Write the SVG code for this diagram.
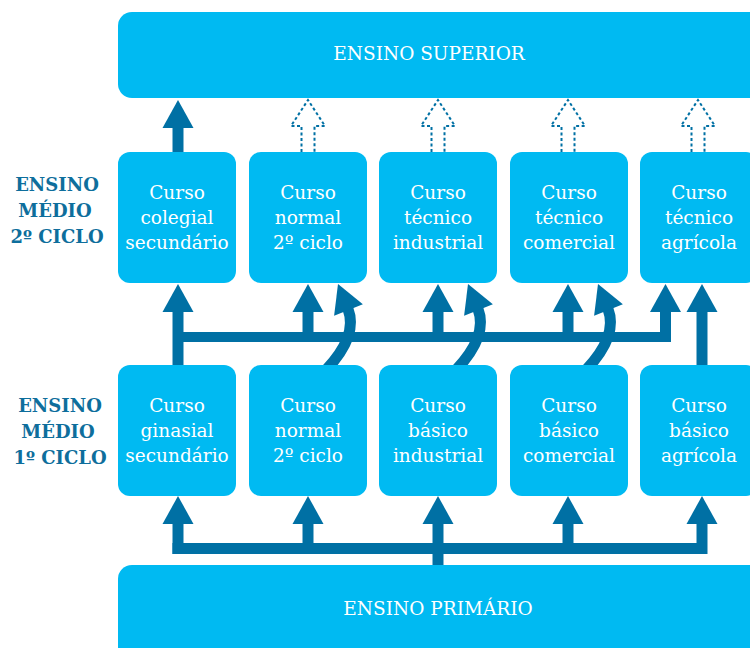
<svg xmlns="http://www.w3.org/2000/svg" xmlns:xlink="http://www.w3.org/1999/xlink" width="750" height="648" viewBox="0 0 750 648">
<style>
.box{fill:#00BAF2}
.bt{fill:#FFFFFF;font-family:"DejaVu Serif","Liberation Serif",serif;font-size:18.5px;text-anchor:middle}
.lbl{fill:#0E6E9C;font-family:"DejaVu Serif","Liberation Serif",serif;font-size:18px;font-weight:bold;text-anchor:middle}
.sh{stroke:#0070A4;stroke-width:11;fill:none}
.hd{fill:#0070A4}
.dash{fill:none;stroke:#0070A4;stroke-width:2;stroke-dasharray:3 2.5}
</style>
<defs>
<path id="head" d="M0,0 L15.5,28 L-15.5,28 Z"/>
<path id="hollow" d="M-6.5,52 L-6.5,26 L-17,26 L0,0 L17,26 L6.5,26 L6.5,52"/>
</defs>
<rect width="750" height="648" fill="#FFFFFF"/>
<g id="connectors">
<!-- top -->
<line class="sh" x1="178" y1="152" x2="178" y2="126"/>
<use href="#head" class="hd" x="178" y="100"/>
<use href="#hollow" class="dash" x="308" y="100"/>
<use href="#hollow" class="dash" x="438" y="100"/>
<use href="#hollow" class="dash" x="568" y="100"/>
<use href="#hollow" class="dash" x="698" y="100"/>
<!-- middle -->
<rect x="173" y="332" width="498" height="10" class="hd"/>
<line class="sh" x1="178" y1="366" x2="178" y2="311"/>
<use href="#head" class="hd" x="178" y="284"/>
<line class="sh" x1="308" y1="342" x2="308" y2="311"/>
<use href="#head" class="hd" x="308" y="284"/>
<line class="sh" x1="438" y1="342" x2="438" y2="311"/>
<use href="#head" class="hd" x="438" y="284"/>
<line class="sh" x1="568" y1="342" x2="568" y2="311"/>
<use href="#head" class="hd" x="568" y="284"/>
<line class="sh" x1="665.5" y1="342" x2="665.5" y2="311"/>
<use href="#head" class="hd" x="665.5" y="284"/>
<line class="sh" x1="702" y1="366" x2="702" y2="311"/>
<use href="#head" class="hd" x="702" y="284"/>
<path class="sh" stroke-width="10" d="M326,370 C343,352 356,330 348,309"/>
<use href="#head" class="hd" transform="translate(338,284) rotate(-22)"/>
<path class="sh" stroke-width="10" d="M456,370 C473,352 486,330 478,309"/>
<use href="#head" class="hd" transform="translate(468,284) rotate(-22)"/>
<path class="sh" stroke-width="10" d="M586,370 C603,352 616,330 608,309"/>
<use href="#head" class="hd" transform="translate(598,284) rotate(-22)"/>
<!-- bottom -->
<rect x="172.5" y="543" width="534.5" height="11" class="hd"/>
<line class="sh" x1="438" y1="566" x2="438" y2="522"/>
<line class="sh" x1="178" y1="554" x2="178" y2="522"/>
<use href="#head" class="hd" x="178" y="496"/>
<line class="sh" x1="308" y1="554" x2="308" y2="522"/>
<use href="#head" class="hd" x="308" y="496"/>
<use href="#head" class="hd" x="438" y="496"/>
<line class="sh" x1="568" y1="554" x2="568" y2="522"/>
<use href="#head" class="hd" x="568" y="496"/>
<line class="sh" x1="702" y1="554" x2="702" y2="522"/>
<use href="#head" class="hd" x="702" y="496"/>
</g>
<g id="ensino-superior">
<rect class="box" x="118" y="12" width="650" height="86" rx="14"/>
<text class="bt" x="429" y="60">ENSINO SUPERIOR</text>
</g>
<g id="label-2ciclo">
<text class="lbl" x="57" y="191">ENSINO</text>
<text class="lbl" x="55" y="217">MÉDIO</text>
<text class="lbl" x="57" y="243">2º CICLO</text>
</g>
<g id="label-1ciclo">
<text class="lbl" x="60" y="412">ENSINO</text>
<text class="lbl" x="58" y="438">MÉDIO</text>
<text class="lbl" x="60" y="464">1º CICLO</text>
</g>
<g id="colegial">
<rect class="box" x="118" y="152" width="118" height="131" rx="12"/>
<text class="bt" x="177" y="199">Curso</text>
<text class="bt" x="177" y="224">colegial</text>
<text class="bt" x="177" y="249">secundário</text>
</g>
<g id="normal2">
<rect class="box" x="249" y="152" width="118" height="131" rx="12"/>
<text class="bt" x="308" y="199">Curso</text>
<text class="bt" x="308" y="224">normal</text>
<text class="bt" x="308" y="249">2º ciclo</text>
</g>
<g id="tecnico-industrial">
<rect class="box" x="379" y="152" width="118" height="131" rx="12"/>
<text class="bt" x="438" y="199">Curso</text>
<text class="bt" x="438" y="224">técnico</text>
<text class="bt" x="438" y="249">industrial</text>
</g>
<g id="tecnico-comercial">
<rect class="box" x="510" y="152" width="118" height="131" rx="12"/>
<text class="bt" x="569" y="199">Curso</text>
<text class="bt" x="569" y="224">técnico</text>
<text class="bt" x="569" y="249">comercial</text>
</g>
<g id="tecnico-agricola">
<rect class="box" x="640" y="152" width="118" height="131" rx="12"/>
<text class="bt" x="699" y="199">Curso</text>
<text class="bt" x="699" y="224">técnico</text>
<text class="bt" x="699" y="249">agrícola</text>
</g>
<g id="ginasial">
<rect class="box" x="118" y="365" width="118" height="131" rx="12"/>
<text class="bt" x="177" y="412">Curso</text>
<text class="bt" x="177" y="437">ginasial</text>
<text class="bt" x="177" y="462">secundário</text>
</g>
<g id="normal1">
<rect class="box" x="249" y="365" width="118" height="131" rx="12"/>
<text class="bt" x="308" y="412">Curso</text>
<text class="bt" x="308" y="437">normal</text>
<text class="bt" x="308" y="462">2º ciclo</text>
</g>
<g id="basico-industrial">
<rect class="box" x="379" y="365" width="118" height="131" rx="12"/>
<text class="bt" x="438" y="412">Curso</text>
<text class="bt" x="438" y="437">básico</text>
<text class="bt" x="438" y="462">industrial</text>
</g>
<g id="basico-comercial">
<rect class="box" x="510" y="365" width="118" height="131" rx="12"/>
<text class="bt" x="569" y="412">Curso</text>
<text class="bt" x="569" y="437">básico</text>
<text class="bt" x="569" y="462">comercial</text>
</g>
<g id="basico-agricola">
<rect class="box" x="640" y="365" width="118" height="131" rx="12"/>
<text class="bt" x="699" y="412">Curso</text>
<text class="bt" x="699" y="437">básico</text>
<text class="bt" x="699" y="462">agrícola</text>
</g>
<g id="ensino-primario">
<rect class="box" x="118" y="565" width="650" height="100" rx="14"/>
<text class="bt" x="438" y="615">ENSINO PRIMÁRIO</text>
</g>
</svg>
